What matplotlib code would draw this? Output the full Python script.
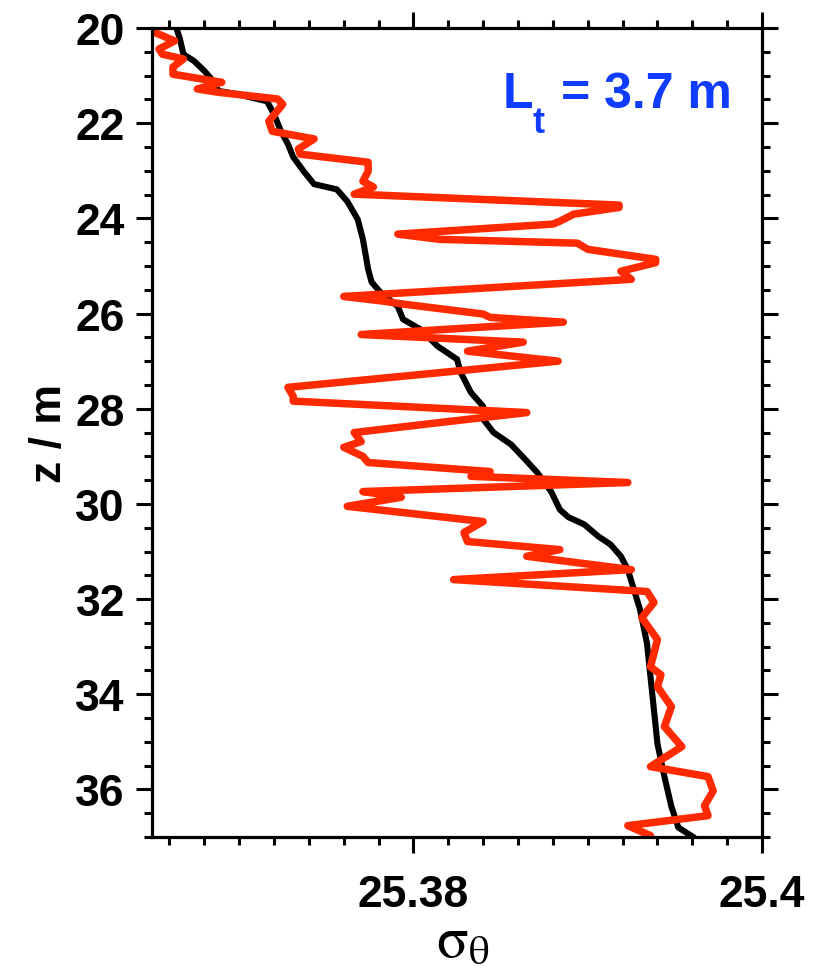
import matplotlib
matplotlib.use("Agg")
import matplotlib.pyplot as plt
from matplotlib.ticker import MultipleLocator, FuncFormatter

plt.rcParams['font.family'] = ['Liberation Sans', 'DejaVu Sans']

# Sorted (stable) potential-density profile
sorted_z = [20.00, 20.23, 20.55, 20.69, 20.90, 21.11, 21.32, 21.39, 21.54, 21.81,
            22.17, 22.44, 22.71, 23.01, 23.28, 23.39, 23.64, 24.02, 24.44, 25.07,
            25.34, 25.55, 25.85, 26.12, 26.33, 26.69, 26.96, 27.23, 27.66, 27.95,
            28.22, 28.50, 28.75, 29.06, 29.34, 29.74, 30.12, 30.28, 30.43, 30.68,
            30.85, 31.10, 31.38, 31.74, 32.22, 32.93, 33.98, 35.04, 35.73, 36.36,
            36.80, 37.01]
sorted_sigma = [25.3664, 25.3666, 25.3668, 25.3674, 25.3680, 25.3685, 25.3688, 25.3699,
                25.3716, 25.3720, 25.3724, 25.3728, 25.3731, 25.3737, 25.3743, 25.3756,
                25.3762, 25.3768, 25.3771, 25.3774, 25.3776, 25.3781, 25.3791, 25.3794,
                25.3804, 25.3814, 25.3825, 25.3827, 25.3833, 25.3840, 25.3840, 25.3846,
                25.3856, 25.3864, 25.3871, 25.3879, 25.3884, 25.3889, 25.3898, 25.3906,
                25.3913, 25.3919, 25.3923, 25.3926, 25.3930, 25.3934, 25.3937, 25.3940,
                25.3944, 25.3948, 25.3952, 25.3961]

# Measured (raw) potential-density profile
raw_z = [20.10, 20.27, 20.44, 20.55, 20.65, 20.82, 20.97, 21.14, 21.28, 21.35,
         21.49, 21.60, 21.96, 22.17, 22.33, 22.54, 22.65, 22.82, 23.01, 23.22,
         23.34, 23.49, 23.72, 23.77, 23.91, 24.06, 24.12, 24.33, 24.44, 24.52,
         24.65, 24.86, 24.93, 25.11, 25.28, 25.64, 25.74, 25.80, 26.01, 26.08,
         26.18, 26.44, 26.60, 26.79, 27.00, 27.55, 27.74, 27.84, 28.08, 28.29,
         28.50, 28.69, 28.81, 29.00, 29.13, 29.32, 29.42, 29.55, 29.74, 29.86,
         30.05, 30.37, 30.60, 30.79, 30.96, 31.10, 31.38, 31.59, 31.84, 32.07,
         32.39, 32.85, 33.42, 33.59, 33.84, 34.26, 34.68, 35.10, 35.52, 35.73,
         36.03, 36.34, 36.55, 36.76, 36.97]
raw_sigma = [25.3652, 25.3663, 25.3654, 25.3656, 25.3668, 25.3662, 25.3662, 25.3690,
             25.3676, 25.3688, 25.3722, 25.3725, 25.3717, 25.3719, 25.3743, 25.3734,
             25.3735, 25.3774, 25.3774, 25.3771, 25.3777, 25.3766, 25.3918, 25.3918,
             25.3892, 25.3884, 25.3880, 25.3791, 25.3815, 25.3894, 25.3900, 25.3939,
             25.3939, 25.3919, 25.3925, 25.3760, 25.3783, 25.3794, 25.3840, 25.3844,
             25.3886, 25.3770, 25.3863, 25.3831, 25.3883, 25.3728, 25.3731, 25.3731,
             25.3865, 25.3815, 25.3766, 25.3770, 25.3760, 25.3771, 25.3774, 25.3844,
             25.3833, 25.3923, 25.3771, 25.3793, 25.3762, 25.3840, 25.3829, 25.3831,
             25.3884, 25.3865, 25.3925, 25.3823, 25.3934, 25.3938, 25.3931, 25.3940,
             25.3936, 25.3942, 25.3940, 25.3948, 25.3944, 25.3954, 25.3936, 25.3969,
             25.3972, 25.3967, 25.3969, 25.3923, 25.3936]

thorpe_scale = 3.7

fig = plt.figure(figsize=(8.29, 9.78), dpi=100)
ax = fig.add_axes([0.1834, 0.1431, 0.7358, 0.8272])

ax.plot(sorted_sigma, sorted_z, color='black', lw=4.4,
        solid_joinstyle='round', solid_capstyle='round')
ax.plot(raw_sigma, raw_z, color='#ff2a00', lw=5.4,
        solid_joinstyle='round', solid_capstyle='round')

ax.set_xlim(25.365, 25.4)
ax.set_ylim(37, 20)

ax.xaxis.set_major_locator(MultipleLocator(0.02))
ax.xaxis.set_minor_locator(MultipleLocator(0.002))
ax.xaxis.set_major_formatter(FuncFormatter(lambda v, p: f'{v:g}'))
ax.yaxis.set_major_locator(MultipleLocator(2))
ax.yaxis.set_minor_locator(MultipleLocator(0.5))

for s in ax.spines.values():
    s.set_linewidth(2.3)

ax.tick_params(which='both', direction='out', top=True, right=True, width=2.2)
ax.tick_params(which='major', length=11.5)
ax.tick_params(which='minor', length=6)
ax.tick_params(axis='x', which='major', labelsize=32, pad=15)
ax.tick_params(axis='y', which='major', labelsize=32, pad=8)
for lab in ax.get_xticklabels() + ax.get_yticklabels():
    lab.set_fontweight('bold')

ax.set_ylabel('z / m', fontsize=32, fontweight='bold', labelpad=4)

# x-axis label: upright serif sigma with theta subscript
ax.text(0.51, -0.147, r'$\mathrm{\sigma_\theta}$', transform=ax.transAxes,
        fontsize=42, math_fontfamily='stix', fontweight='normal',
        ha='center', va='baseline')

# Thorpe scale annotation
blue = '#0f3cff'
ax.text(0.575, 0.902, 'L', transform=ax.transAxes, color=blue, fontsize=36,
        fontweight='bold', va='baseline', ha='left')
ax.text(0.624, 0.872, 't', transform=ax.transAxes, color=blue, fontsize=26,
        fontweight='bold', va='baseline', ha='left')
ax.text(0.670, 0.902, f'= {thorpe_scale} m', transform=ax.transAxes, color=blue,
        fontsize=36, fontweight='bold', va='baseline', ha='left')

fig.savefig('out.png', dpi=100)
